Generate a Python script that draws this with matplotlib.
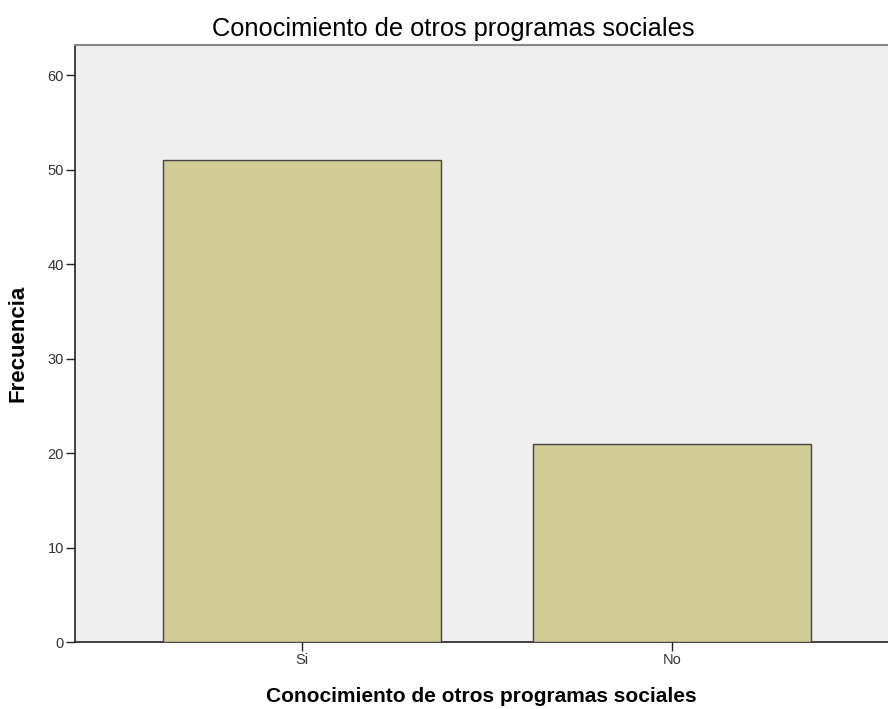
import matplotlib
matplotlib.use("Agg")
import matplotlib.pyplot as plt

categories = ["Si", "No"]
values = [51, 21]
yticks = [0, 10, 20, 30, 40, 50, 60]

plt.rcParams['font.family'] = ['Liberation Sans', 'DejaVu Sans']

fig = plt.figure(figsize=(8.88, 7.09), dpi=100)
ax = fig.add_axes([75/888, 1-642/709, 1-75/888, (642-45)/709])
ax.set_facecolor('#EFEFEF')
x = list(range(len(categories)))
ax.bar(x, values, width=0.751, color='#D2CC96', edgecolor='#444444', linewidth=1.0, zorder=3)
ax.set_xlim(-0.6135, 1.584)
ax.set_ylim(0, 63.2)
ax.set_yticks(yticks)
ax.set_yticklabels([str(v) for v in yticks])
ax.set_xticks(x)
ax.set_xticklabels(categories)
ax.tick_params(axis='both', direction='out', length=6.5, width=1, colors='#222222', labelcolor='#333333', labelsize=10.5, pad=1.5)
for s in ['left', 'bottom']:
    ax.spines[s].set_color('#222222')
    ax.spines[s].set_linewidth(1.2)
ax.spines['top'].set_color('#888888')
ax.spines['top'].set_linewidth(1.5)
ax.spines['right'].set_visible(False)
ax.set_ylabel('Frecuencia', fontsize=16, fontweight='bold', labelpad=14)
ax.set_xlabel('Conocimiento de otros programas sociales', fontsize=15, fontweight='bold', labelpad=14)
fig.text(453/888, 1-29/709, 'Conocimiento de otros programas sociales', ha='center', va='center', fontsize=18.3)
fig.savefig('out.png', dpi=100)
